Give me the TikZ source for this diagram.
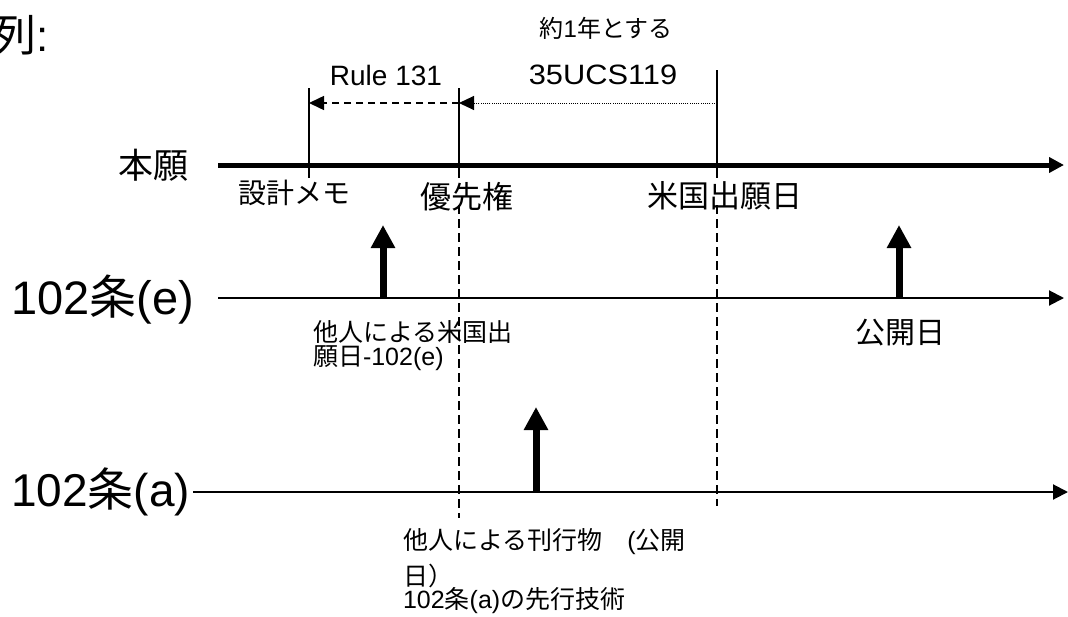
\documentclass[tikz,border=0pt]{standalone}
\usepackage{fontspec}
\setmainfont{Liberation Sans}
\newfontfamily\jp{Noto Sans CJK JP}
\usetikzlibrary{arrows.meta}
\newcommand\fsz[2]{\fontsize{#1pt}{#2pt}\selectfont}
\begin{document}
\begin{tikzpicture}[x=1pt,y=-1pt,
  lbl/.style={inner sep=0pt,outer sep=0pt},
  tick/.style={line width=1.5pt},
  guide/.style={line width=1.5pt,dash pattern=on 9pt off 5pt},
  mainline/.style={line width=5pt,-{Triangle[length=15pt,width=15pt]}},
  subline/.style={line width=2pt,-{Triangle[length=15pt,width=15pt]}},
  uparrow/.style={line width=7pt,-{Triangle[length=23pt,width=23pt]}},
  span/.style={line width=1.5pt,-{Triangle[length=15pt,width=14pt]}}]
\useasboundingbox (0,0) rectangle (1068,616);
% title
\node[lbl,anchor=west] (title) at (-8,35) {\fsz{44}{50}{\jp 列}:};
% coordinates
\coordinate (hL) at (218,165);
\coordinate (hR) at (1064,165);
\coordinate (t1top) at (309,88);  \coordinate (t1bot) at (309,178);
\coordinate (t2top) at (459,88);  \coordinate (t2bot) at (459,178);
\coordinate (t3top) at (717,70);  \coordinate (t3bot) at (717,178);
\coordinate (d2a) at (459,205);   \coordinate (d2b) at (459,518);
\coordinate (d3a) at (717,205);   \coordinate (d3b) at (717,506);
\coordinate (s1) at (309,103); \coordinate (s2) at (459,103); \coordinate (s3) at (717,103);
\coordinate (eL) at (218,298); \coordinate (eR) at (1064,298);
\coordinate (aL) at (193,492); \coordinate (aR) at (1068,492);
\coordinate (u1b) at (383,298); \coordinate (u1t) at (383,225);
\coordinate (u2b) at (899,298); \coordinate (u2t) at (899,225);
\coordinate (u3b) at (536,492); \coordinate (u3t) at (536,407);
% lines
\draw[mainline] (hL) -- (hR);
\draw[tick] (t1top) -- (t1bot);
\draw[tick] (t2top) -- (t2bot);
\draw[tick] (t3top) -- (t3bot);
\draw[guide] (d2a) -- (d2b);
\draw[guide] (d3a) -- (d3b);
\draw[span,dash pattern=on 7pt off 5pt] (s2) -- (s1);
\draw[span,line width=1pt,dash pattern=on 1pt off 1.2pt] (s3) -- (s2);
\draw[subline] (eL) -- (eR);
\draw[subline] (aL) -- (aR);
\draw[uparrow] (u1b) -- (u1t);
\draw[uparrow] (u2b) -- (u2t);
\draw[uparrow] (u3b) -- (u3t);
% labels
\node[lbl] (year) at (606,28) {\fsz{24}{28}{\jp 約}1{\jp 年とする}};
\node[lbl] (rule) at (386,75) {\fsz{28}{32}Rule 131};
\node[lbl] (usc) at (603,75) {\fsz{28}{32}\scalebox{1.1}[1]{35UCS119}};
\node[lbl] (honL) at (153,165) {\fsz{35}{40}\jp 本願};
\node[lbl] (memo) at (294,193) {\fsz{28}{32}\jp 設計メモ};
\node[lbl] (prio) at (467,197) {\fsz{31}{36}\jp 優先権};
\node[lbl] (usd) at (725,196) {\fsz{31}{36}\jp 米国出願日};
\node[lbl,anchor=west] (eL2) at (11,300) {\fsz{47}{52}102{\jp 条}(e)};
\node[lbl,anchor=north west,align=left,font=\fsz{25}{24}] (oth1) at (313,321) {{\jp 他人による米国出}\\{\jp 願日}-102(e)};
\node[lbl] (pub) at (900,333) {\fsz{30}{34}\jp 公開日};
\node[lbl,anchor=west] (aL2) at (11,492) {\fsz{46}{52}102{\jp 条}(a)};
\node[lbl,anchor=north west,align=left,font=\fsz{25}{29}] (oth2) at (403,528) {{\jp 他人による刊行物　}({\jp 公開}\\[7pt]{\jp 日）}\\[-6pt]102{\jp 条}(a){\jp の先行技術}};
\end{tikzpicture}
\end{document}
